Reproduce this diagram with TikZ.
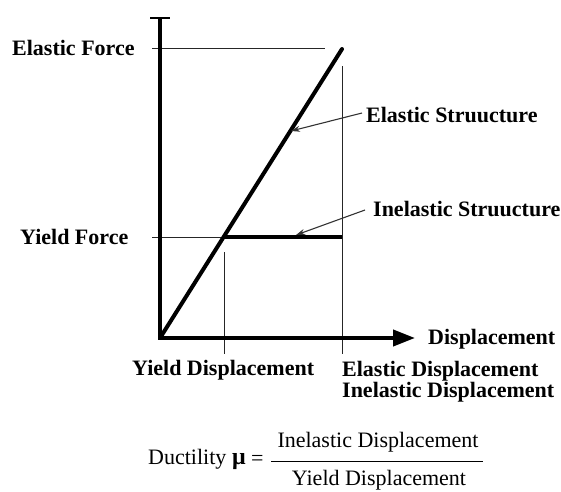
\documentclass[tikz,border=0pt]{standalone}
\usepackage{fontspec}
\setmainfont{Liberation Serif}
\usetikzlibrary{arrows.meta}
\begin{document}
\begin{tikzpicture}[x=1pt,y=-1pt,
  lbl/.style={font=\fontsize{22}{24}\selectfont\bfseries, inner sep=0pt},
  frm/.style={font=\fontsize{22}{24}\selectfont, inner sep=0pt},
  thinline/.style={line width=1pt, black!85},
  curve/.style={line width=4pt},
  pointer/.style={line width=1.1pt, black!80, -{Stealth[length=9pt,width=6pt]}}]
\useasboundingbox (0,0) rectangle (561,491);
% key points
\coordinate (O) at (160,338);
\coordinate (Ytop) at (160,17);
\coordinate (Xend) at (415,338);
\coordinate (E) at (342,49);
\coordinate (Yp) at (223.6,237);
\coordinate (Ie) at (342,237);
% thin guide lines
\coordinate (efl) at (152,48);
\coordinate (efr) at (325,48);
\coordinate (yfl) at (152,237);
\coordinate (evt) at (342,66);
\coordinate (evb) at (342,354);
\coordinate (yvt) at (224,252);
\coordinate (yvb) at (224,354);
\draw[thinline] (efl) -- (efr);
\draw[thinline] (yfl) -- (Yp);
\draw[thinline] (evt) -- (evb);
\draw[thinline] (yvt) -- (yvb);
% axes
\draw[line width=4pt, line join=miter, {Bar[width=20pt,line width=2pt]}-{Triangle[length=22pt,width=16pt]}] (Ytop) -- (O) -- (Xend);
% curves
\draw[curve, line cap=round] (O) -- (E);
\draw[curve] (Yp) -- (Ie);
% labels
\node[lbl, anchor=west] (lef) at (12,48) {Elastic Force};
\node[lbl, anchor=west] (lyf) at (20,237) {Yield Force};
\node[lbl, anchor=west] (les) at (366,115) {Elastic Struucture};
\node[lbl, anchor=west] (lis) at (373,209) {Inelastic Struucture};
\node[lbl, anchor=west] (ldisp) at (428,339) {Displacement};
\node[lbl, anchor=west] (lyd) at (132,370) {Yield Displacement};
\node[lbl, anchor=north west, align=left, font=\fontsize{22}{21}\selectfont\bfseries] (led) at (342,361) {Elastic Displacement\\Inelastic Displacement};
% pointers
\coordinate (esTip) at (291,131);
\coordinate (isTip) at (296,235);
\draw[pointer] (les.west) ++(-4,-2) coordinate (esS) -- (esTip);
\draw[pointer] (lis.west) ++(-8,1) coordinate (isS) -- (isTip);
% formula
\node[frm, anchor=west] (duct) at (148,459) {Ductility};
\node[frm, anchor=west, font=\fontsize{24}{24}\selectfont\bfseries] (mu) at (232,462) {μ};
\node[frm, anchor=west] (eq) at (251,460) {=};
\coordinate (barL) at (271,461);
\coordinate (barR) at (483,461);
\draw[line width=1pt] (barL) -- (barR);
\node[frm] (num) at (378,442) {Inelastic Displacement};
\node[frm] (den) at (379,480) {Yield Displacement};
\end{tikzpicture}
\end{document}
